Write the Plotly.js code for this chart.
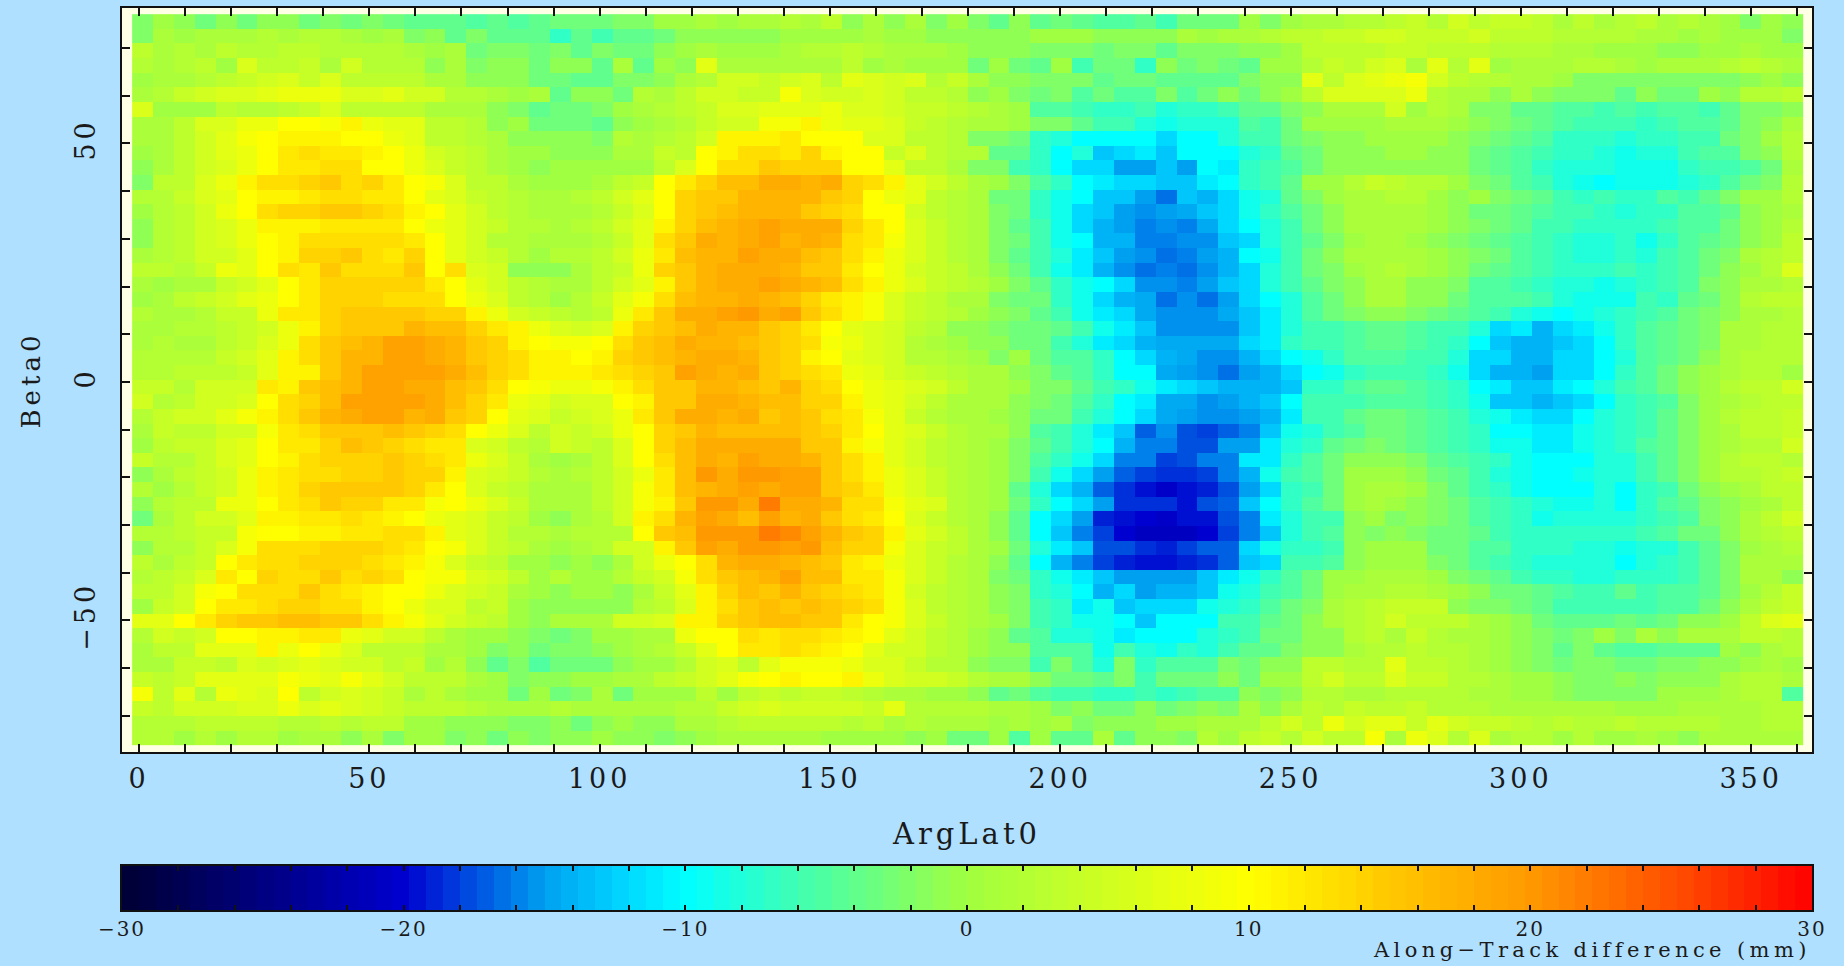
<!DOCTYPE html>
<html><head><meta charset="utf-8">
<script src="https://cdn.plot.ly/plotly-3.0.1.min.js"></script>
<style>
html,body{margin:0;padding:0;background:#b0e0ff}
#c{width:1844px;height:966px}
.xtick text,.ytick text{letter-spacing:4px}
.xtitle,.ytitle{letter-spacing:4px}
.x2tick text{letter-spacing:2px}
.annotation-text{letter-spacing:4.4px}
</style></head><body><div id="c"></div>
<script>
const xTickVals=[0,10,20,30,40,50,60,70,80,90,100,110,120,130,140,150,160,170,180,190,200,210,220,230,240,250,260,270,280,290,300,310,320,330,340,350,360];
const xTickText=['0','','','','','50','','','','','100','','','','','150','','','','','200','','','','','250','','','','','300','','','','','350','',''];
const yTickVals=[70,60,50,40,30,20,10,0,-10,-20,-30,-40,-50,-60,-70];
const yTickText=['','','50','','','','','0','','','','','−50','',''];
const barTickVals=[-30,-28,-26,-24,-22,-20,-18,-16,-14,-12,-10,-8,-6,-4,-2,0,2,4,6,8,10,12,14,16,18,20,22,24,26,28,30];
const barTickText=['−30','','','','','−20','','','','','−10','','','','','0','','','','','10','','','','','20','','','','','30'];
const colorLevels=[-30,-25,-20,-17.5,-15,-12.5,-10,-5,0,5,10,15,20,25,30];
const colorValues=['#000033','#000080','#0000d0','#0050e0','#00a0f0','#00d0ff','#00ffff','#50ffa0','#a0ff40','#d0ff20','#ffff00','#ffc800','#ff9900','#ff5000','#ff0000'];
// Along-track difference (mm): one row per Beta0 bin, top to bottom; 80 ArgLat0 bins per row
const diffRows=[
[-2,0,-1,-3,-1,-3,-1,-1,-3,-2,-3,-2,-3,-4,-4,-4,-5,-4,-5,-4,-3,-3,-3,-2,-2,0,0,1, 0,1,1,2,1,3,-1,1,-1,1,-2,0,-2,-4,-1,-4,-3,-4,-5,-5,-4,-6,-3,-3,-3,0,-2,0, 1,1,2,2,3,4,2,5,3,4,4,3,1,3,1,2,3,1,2,1,0,-2,0,-1],
[-2,1,0,1,1,1,2,1,2,2,1,0,1,-2,-1,-4,-2,-4,-4,-4,-7,-4,-6,-4,-4,-3,-1,-1, -1,-1,-1,0,0,0,0,1,0,0,-1,-1,-1,-1,-1,0,0,0,-1,-1,-1,-1,1,0,1,1,2,3, 3,4,4,5,5,4,4,4,5,3,3,3,2,2,2,2,1,1,0,1,0,0,0,-2],
[3,1,2,1,3,2,2,3,3,2,2,2,2,1,0,1,-3,-2,-2,-3,-2,-4,-2,-3,-3,-1,0,1, 0,0,0,1,2,2,3,2,1,1,1,0,-1,-1,-1,-2,-2,-2,-3,-2,-2,-4,-2,-2,-2,-1,-1,0, 3,3,3,3,4,4,3,3,3,2,2,2,1,1,0,0,0,-1,-1,0,0,1,0,0],
[2,1,2,3,0,6,3,3,4,1,5,2,2,2,-1,1,-2,-1,-1,-3,-1,-1,-4,1,-4,0,-1,7, 1,1,1,1,1,1,3,0,1,0,0,0,-3,0,-3,-4,0,-6,-3,-3,-7,-1,-3,-2,-3,-4,0,0, 2,4,3,5,6,1,7,2,7,0,1,1,1,2,2,1,0,1,1,1,2,3,2,1],
[0,1,1,2,3,4,5,6,4,6,3,3,3,3,1,1,-1,-1,-1,-3,-3,-4,-4,-2,-2,-1,1,2, 5,5,4,5,6,3,7,6,5,6,2,4,1,-1,-1,-2,-2,-2,-4,-3,-3,-4,-4,-4,-4,-2,-1,-1, 7,3,6,7,8,9,5,3,2,2,1,1,0,-2,-2,-2,-2,-2,-2,-2,-2,-1,0,-1],
[1,2,4,5,6,6,7,8,8,8,6,6,7,5,5,2,2,1,0,1,-4,-1,-1,-3,2,1,3,5, 5,4,4,9,6,5,5,6,5,3,3,2,-1,0,-2,-3,-2,-5,-3,-5,-5,-2,-5,-3,-1,-3,-1,0, 3,6,6,6,6,8,2,1,1,-1,1,-1,-2,-2,-2,-4,-1,-3,-3,0,-1,2,2,3],
[6,0,0,0,3,2,2,3,4,6,3,3,3,3,1,1,1,-1,-2,-4,-3,-3,-2,0,1,2,3,4, 6,6,7,7,7,8,6,6,5,4,4,3,2,1,0,-5,-5,-6,-7,-7,-6,-8,-7,-7,-6,-4,-4,-2, -1,1,1,1,5,0,2,1,-2,-2,-4,-4,-5,-5,-6,-5,-6,-5,-5,-6,-4,-2,-2,-1],
[1,1,3,6,6,8,8,10,10,9,11,8,7,7,3,3,2,-1,0,-3,-3,-3,-4,-1,0,1,2,4, 5,5,9,9,11,8,7,7,6,4,3,2,1,1,0,-2,-2,-4,-6,-6,-8,-9,-8,-8,-8,-5,-6,-3, 0,0,0,0,1,1,1,0,-1,-2,-3,-4,-5,-6,-6,-6,-7,-6,-5,-5,-4,-2,-1,1],
[1,1,3,5,7,9,10,11,11,11,10,10,8,7,3,3,2,1,-1,-1,-1,-1,-2,2,1,2,3,5, 11,11,11,12,10,10,10,6,6,3,3,2,-2,-2,-3,-7,-8,-10,-10,-10,-10,-12,-10,-10,-8,-6,-6,-3, -2,-1,-1,0,0,0,0,-1,-2,-3,-4,-5,-7,-7,-7,-8,-7,-7,-6,-6,-3,-2,0,2],
[0,1,3,5,7,8,10,12,13,12,12,11,10,8,5,4,3,1,0,0,-1,-1,-1,1,1,4,3,10, 11,13,13,12,14,11,10,10,4,6,3,2,2,-4,-4,-7,-10,-8,-13,-12,-11,-13,-10,-10,-10,-8,-7,-4, -3,-1,-1,-1,0,0,-1,-1,-3,-4,-5,-6,-7,-7,-8,-9,-8,-8,-6,-5,-5,-2,-1,2],
[-1,1,3,5,6,8,10,12,12,13,13,10,10,8,6,4,3,1,0,-1,0,0,0,0,0,3,6,10, 13,13,15,14,14,14,10,10,7,3,3,1,-2,-2,-6,-7,-10,-12,-12,-15,-15,-13,-15,-10,-11,-7,-6,-5, -3,-1,-1,-1,-1,-1,-1,-1,-3,-4,-5,-7,-8,-8,-8,-9,-9,-9,-7,-6,-6,-5,-3,1],
[-2,3,3,6,8,11,13,13,14,15,13,14,12,10,9,6,3,3,1,0,0,0,1,3,4,10,12,14, 16,16,18,18,17,18,14,13,11,7,5,3,1,0,-2,-5,-7,-10,-11,-12,-12,-13,-13,-11,-10,-7,-6,-4, 0,0,2,4,3,2,2,0,-2,-3,-5,-6,-8,-9,-10,-9,-9,-9,-8,-7,-5,-3,-2,2],
[2,2,4,6,7,10,11,11,12,13,13,12,12,10,7,6,4,3,2,1,1,2,3,5,7,10,14,15, 15,17,17,17,17,15,14,10,8,7,3,2,1,-3,-3,-7,-9,-10,-13,-13,-15,-16.5,-13,-14,-12,-9,-8,-4, -2,0,1,1,2,2,0,-1,0,-2,-3,-4,-6,-7,-6,-7,-7,-5,-6,-4,-2,0,0,2],
[0,2,3,5,8,10,13,14,14,15,15,14,13,11,10,7,5,3,2,1,1,1,2,4,6,10,14,15, 16,17,17,17,15,14,13,10,10,5,3,2,1,-2,-3,-7,-9,-12,-13,-15,-15.5,-15,-14.5,-13,-12,-9,-7,-5, -3,-1,1,1,1,1,0,-1,-3,-3,-4,-5,-6,-6,-7,-8,-7,-7,-5,-5,-4,-1,0,1],
[-1,2,3,5,6,8,11,11,11,12,12,12,12,10,8,7,5,4,2,2,1,2,3,5,7,11,14,16, 17,18,19,18,18,18,14,12,10,6,4,2,1,-2,-4,-6,-9,-12,-14,-15,-16,-15.5,-16,-14.5,-12,-10,-8,-6, -3,-1,1,1,1,1,0,-1,-2,-3,-4,-6,-6,-7,-7,-7,-7,-6,-5,-5,-3,-1,0,2],
[-1,2,3,5,6,8,10,11,13,13,13,13,13,12,10,7,5,2,2,1,1,1,2,4,7,13,15,18, 17,18,19,17,18,17,13,12,9,6,4,2,1,-2,-3,-6,-9,-10,-14,-14,-16,-16,-15.5,-15.5,-13,-12,-8,-6, -4,-2,0,1,1,0,-1,-2,-3,-4,-5,-6,-7,-8,-8,-7,-9,-7,-5,-4,-3,-1,0,3],
[1,2,3,5,5,7,10,11,14,14,15,13,12,14,10,7,5,4,2,0,2,2,3,5,8,12,16,17, 17,19,18,18,16,15,13,11,8,6,4,2,1,-2,-4,-6,-8,-11,-13,-15,-15.5,-16.5,-16,-15,-14,-10,-9,-6, -3,-1,1,1,1,1,0,-1,-2,-3,-5,-6,-7,-8,-8,-7,-8,-6,-5,-3,-2,1,2,3],
[3,3,2,4,8,7,10,13,12,15,13,13,13,15,10,13,6,5,-1,-1,-1,1,3,4,8,14,15,17, 18,18,18,17,15,15,12,10,8,5,4,3,1,-1,-3,-6,-9,-11,-14,-15.5,-16.5,-16,-16.5,-15.5,-14,-12,-8,-6, -3,-2,0,1,2,1,0,-1,-3,-4,-5,-6,-7,-7,-7,-6,-7,-6,-5,-3,-1,0,2,6],
[1,0,1,1,4,5,7,10,12,14,14,14,14,14,12,10,7,5,3,2,1,1,3,5,7,11,15,17, 18,18,19,18,17,16,13,11,8,6,4,3,2,0,-2,-4,-7,-9,-10,-12,-15.5,-15.5,-16,-15,-13,-12,-8,-6, -4,-2,-1,1,1,-1,-1,-2,-5,-5,-6,-7,-8,-8,-9,-8,-7,-6,-5,-2,-1,1,1,2],
[0,1,3,4,5,7,8,10,12,14,14,14,13,13,13,10,8,6,3,2,0,2,4,7,9,13,16,17, 17,18,17,16,14,12,11,9,6,4,3,1,1,-2,-3,-3,-7,-9,-12,-14,-14.5,-16.5,-15.5,-16.5,-15,-12,-10,-8, -5,-3,-1,1,1,-1,-1,-3,-5,-5,-5,-6,-8,-9,-9,-9,-6,-7,-4,-3,-1,2,3,3],
[2,1,1,2,4,4,8,12,12,14,15,15,15,15,14,14,11,8,5,4,3,2,3,8,12,15,18,18, 19,20,18,19,15,13,11,9,6,4,3,2,0,-1,-2,-4,-6,-9,-11,-12,-14.5,-15.5,-15.5,-15.5,-14.5,-13,-11,-8, -5,-3,-2,-1,-1,-2,-3,-4,-5,-6,-8,-9,-10,-9,-8,-7,-6,-5,-3,-2,-1,1,1,2],
[1,1,2,2,3,4,5,8,11,14,15,15,15,17,16,16,14,12,11,8,6,5,6,11,14,15,16,18, 17,17,15,14,12,10,7,6,5,3,2,-1,-1,-2,-3,-3,-4,-6,-9,-11,-13,-15.5,-15.5,-15.5,-15.5,-13,-11,-8, -6,-6,-5,-4,-4,-5,-6,-6,-8,-12,-11,-14,-12,-11,-9,-7,-5,-4,-3,-2,1,1,2,2],
[1,2,1,1,3,4,6,8,13,15,16,17,19,19,18,17,15,14,11,10,9,9,10,13,15,16,18,17, 17,16,15,14,13,9,8,6,5,2,1,0,-1,-1,-3,-3,-6,-8,-11,-12,-14,-14.5,-14.5,-14.5,-14.5,-12,-11,-7, -6,-6,-5,-4,-4,-5,-6,-7,-10,-13,-14,-14,-13,-12,-10,-7,-5,-4,-3,-2,1,1,2,2],
[2,2,2,2,4,5,7,11,13,15,17,17,19,19,18,17,15,14,13,11,11,10,11,14,15,16,17,18, 18,17,15,14,11,10,7,6,5,2,2,1,0,-2,0,-3,-5,-5,-7,-10,-12,-14,-14.5,-15.5,-15.5,-14,-12,-10, -9,-7,-5,-5,-5,-6,-6,-8,-12,-12,-14,-14,-12,-12,-10,-8,-5,-4,-3,-1,1,2,2,2],
[2,2,3,3,3,4,7,11,11,15,17,19,19,19,19,18,16,14,13,11,11,11,12,13,14,15,19,18, 17,18,15,14,13,12,8,7,5,4,3,2,1,1,-1,-2,-4,-5,-7,-10,-10,-14.5,-15,-15.5,-16.5,-15,-14,-12, -10,-9,-7,-6,-6,-6,-7,-9,-12,-14,-14,-15,-12,-12,-10,-7,-5,-3,-1,0,1,2,2,0],
[4,4,2,5,5,5,12,11,15,16,17,19,19,18,18,16,15,13,10,9,8,8,9,11,13,15,15,17, 17,16,15,17,14,13,10,8,7,6,5,3,1,1,0,-2,-2,-4,-6,-7,-9,-11,-12,-13,-14,-14,-14,-13, -7,-7,-5,-4,-4,-5,-6,-7,-10,-11,-13,-13,-11,-10,-8,-6,-5,-3,-1,0,2,3,3,5],
[5,2,3,5,5,6,10,13,14,16,19,19,19,19,18,16,14,12,8,7,5,6,6,10,11,15,15,18, 18,17,16,16,14,14,11,8,7,5,3,1,1,1,-1,-2,-3,-5,-7,-10,-11,-14.5,-14.5,-15.5,-15,-14,-13,-10, -6,-6,-6,-5,-5,-5,-6,-7,-9,-13,-13,-14,-13,-12,-10,-7,-6,-5,-2,0,1,2,3,3],
[2,4,5,5,7,9,11,13,15,17,18,19,19,17,18,15,14,10,7,6,4,5,6,8,12,15,18,18, 17,18,15,16,15,13,12,9,7,4,2,1,1,0,-1,-3,-3,-6,-8,-10,-12,-14.5,-15,-15.5,-15.5,-15,-14,-11, -6,-6,-4,-3,-3,-4,-5,-6,-8,-9,-11,-12,-12,-10,-8,-7,-6,-4,-2,0,2,3,3,4],
[1,4,3,3,5,5,9,12,13,15,15,15,16,15,14,13,10,8,6,3,5,4,5,8,10,14,15,17, 16,16,16,16,15,14,12,10,7,6,4,2,1,1,-1,-5,-6,-8,-11,-13,-17,-15.5,-17.5,-18,-17,-16,-13,-9, -8,-6,-5,-3,-3,-4,-5,-6,-7,-10,-10,-11,-11,-9,-8,-7,-6,-4,-2,0,1,3,3,4],
[0,3,4,4,6,7,10,12,12,14,16,15,14,13,12,12,6,5,3,2,5,4,3,6,10,14,16,18, 18,18,18,18,15,15,11,9,7,5,3,2,1,0,-2,-4,-6,-8,-10,-14,-16,-16,-17.5,-17.5,-15,-15,-11,-8, -7,-4,-3,-2,-3,-4,-5,-6,-7,-9,-9,-11,-11,-9,-8,-7,-5,-4,-2,0,1,2,2,5],
[4,2,2,4,6,7,10,11,13,14,14,14,15,14,13,12,8,6,4,1,0,1,3,6,10,13,16,18, 17,19,18,18,17,15,13,11,7,5,3,2,1,0,-2,-5,-7,-9,-12,-16,-16,-18,-17.5,-16,-16,-11,-11,-7, -5,-3,-1,-1,-1,-2,-4,-5,-6,-7,-9,-10,-10,-10,-8,-8,-6,-4,-2,0,2,3,3,2],
[-1,1,3,4,5,8,11,12,13,13,14,14,15,14,14,11,6,5,4,2,1,2,3,5,8,12,16,20, 18,20,20,19,19,15,13,11,8,6,4,2,1,0,-2,-6,-9,-12,-15,-17,-18,-18.5,-18.5,-18,-16,-14,-9,-6, -5,-3,0,0,0,-1,-3,-4,-6,-8,-9,-10,-10,-9,-8,-8,-6,-4,-2,0,2,2,3,4],
[2,0,2,4,5,8,11,12,14,15,15,15,15,14,12,10,6,4,3,1,1,1,3,5,9,12,16,17, 18,19,18,19,19,15,14,12,8,6,4,2,1,0,-4,-8,-12,-14,-17,-18.5,-19.5,-20.5,-19.5,-19,-17.5,-15,-12,-7, -6,-3,0,1,1,0,-2,-4,-6,-7,-9,-10,-10,-10,-8,-10,-7,-6,-3,-1,0,1,3,3],
[-1,2,3,3,8,8,10,12,13,15,14,14,12,12,9,10,8,6,4,1,1,1,3,5,9,11,15,20, 20,18,22,18,18,17,13,13,9,7,6,2,1,0,-3,-7,-10,-12,-15,-18.5,-18.5,-18.5,-19.5,-17.5,-17,-13,-10,-7, -5,-3,0,1,0,-1,-2,-3,-5,-6,-7,-8,-9,-9,-8,-10,-7,-5,-4,-2,-1,0,1,3],
[-3,1,3,5,5,7,11,11,12,12,13,12,11,10,8,7,6,4,3,0,-1,1,2,5,11,13,17,19, 18,16,19,17,18,15,13,12,10,6,4,2,1,-1,-4,-10,-12,-15,-19,-19.5,-20,-20.5,-19.5,-19.5,-17.5,-16,-11,-8, -6,-6,-1,0,-2,-1,-2,-3,-5,-6,-7,-9,-8,-8,-8,-8,-7,-6,-5,-2,-1,1,3,5],
[2,2,3,4,4,9,10,10,11,11,12,12,13,13,11,7,6,4,2,2,1,2,2,2,10,15,16,20, 20,20,22,21,19,17,15,14,11,7,5,3,1,-1,-4,-10,-13,-16,-18,-20,-21,-21,-21,-20,-18,-16,-13,-8, -6,-5,-1,-2,-1,-2,-3,-3,-4,-6,-7,-7,-7,-7,-7,-7,-6,-5,-3,-3,-1,1,2,3],
[-1,2,2,4,6,9,13,13,13,14,14,14,13,12,10,9,6,4,3,1,0,1,2,5,5,11,15,19, 18,20,20,19,20,16,14,14,9,6,4,3,1,0,-3,-8,-11,-13,-17.5,-17.5,-18.5,-19,-18,-17,-17,-12,-9,-7, -7,-6,-1,0,0,0,-3,-3,-5,-5,-7,-7,-7,-8,-8,-9,-8,-8,-6,-4,-2,0,1,2],
[3,1,3,4,10,12,13,13,14,14,14,13,12,11,9,6,4,3,0,0,-1,0,-1,1,5,8,10,13, 17,18,18,17,16,15,12,11,8,6,4,2,1,-1,-4,-10,-14,-16,-18,-19,-19.5,-19.5,-19,-18.5,-17,-13,-12,-6, -6,-5,-1,0,0,0,-2,-3,-5,-6,-7,-8,-8,-8,-8,-10,-8,-7,-6,-4,-2,1,1,1],
[2,3,4,6,12,10,14,13,13,15,13,14,13,10,9,9,6,5,3,0,2,0,0,2,4,5,9,13, 15,16,17,19,16,16,12,12,9,6,4,2,1,-2,-3,-7,-9,-11,-13,-15,-15,-15,-15,-13,-11,-9,-7,-5, -3,0,0,1,1,1,0,-2,-3,-4,-6,-7,-7,-8,-8,-7,-7,-7,-6,-4,-2,1,1,-1],
[3,3,5,9,10,13,13,13,15,13,12,11,10,10,8,6,5,4,1,0,-1,0,0,-1,1,4,7,11, 14,16,15,17,15,14,13,12,9,5,3,2,1,-1,-2,-7,-8,-10,-14,-12,-15,-14,-14,-13,-9,-8,-6,-5, -3,0,1,1,2,2,1,0,-1,-3,-3,-4,-5,-6,-6,-4,-6,-5,-5,-4,-2,0,2,4],
[0,4,5,10,12,12,13,14,14,13,13,11,10,8,6,6,3,4,0,-1,-1,-1,-1,-1,2,3,6,11, 13,15,16,15,16,15,14,13,9,6,3,2,1,-1,-2,-6,-7,-11,-9,-13,-12,-12,-12,-9,-8,-7,-5,-3, -2,1,2,3,4,4,4,-1,-2,-2,-3,-4,-6,-6,-6,-6,-6,-5,-5,-3,-1,1,3,4],
[7,7,10,12,14,15,15,16,16,15,15,13,11,9,7,5,4,3,0,-1,1,1,1,5,5,6,11,11, 14,15,16,16,15,15,12,10,9,6,4,2,1,0,-2,-6,-7,-9,-9,-10,-13,-10,-10,-10,-6,-6,-4,-3, -1,1,2,3,5,3,3,3,1,0,-1,-3,-4,-4,-4,-3,-4,-3,-1,-1,0,3,6,7],
[2,5,4,5,10,10,11,11,12,12,8,7,5,5,3,1,0,0,-1,-2,-3,-2,0,0,1,1,8,10, 10,13,12,13,13,12,11,10,7,5,3,2,0,-1,-4,-5,-8,-8,-9,-11,-10,-10,-10,-8,-7,-6,-3,-3, -1,-1,2,3,1,4,2,1,1,0,-1,-2,-3,-2,0,-2,1,-1,1,1,1,3,3,2],
[1,3,3,7,7,7,11,8,10,8,6,3,3,3,1,1,0,-2,-1,-3,-2,-2,-1,0,1,2,4,7, 10,12,12,13,12,11,10,7,5,5,3,2,0,-1,-1,-5,-5,-5,-9,-6,-8,-9,-7,-8,-6,-4,-4,-2, -1,-1,1,2,2,3,2,2,1,0,-1,-2,-4,-2,-4,-5,-5,-4,-4,-4,0,-1,1,2],
[1,1,4,4,3,6,5,6,7,6,5,5,3,4,0,2,-1,-4,-2,-5,-3,-3,-3,-1,0,0,2,5, 6,3,7,9,9,9,8,6,6,4,2,2,-1,-2,-2,-6,-2,-5,-8,-2,-7,-5,-5,-5,-2,-3,-1,-1, 3,3,2,2,7,3,3,2,1,0,-1,-2,-3,-2,-2,-3,-3,-2,-2,-1,-1,0,1,0],
[4,3,4,7,7,7,7,9,8,7,9,7,5,3,3,3,1,0,-2,-1,-1,0,0,1,1,3,4,5, 7,9,10,11,10,10,11,8,6,5,5,4,2,1,1,-1,-3,-3,-4,-2,-6,-3,-3,-3,-1,-3,0,0, 3,5,3,3,6,4,4,2,2,1,0,0,-1,-2,-2,-1,-2,-1,-1,-1,1,2,2,1],
[9,3,7,2,8,7,6,10,3,5,6,5,4,1,3,1,0,0,-3,0,-3,-2,1,-3,0,0,0,3, 0,3,4,3,4,4,3,2,1,1,0,0,-1,-4,-3,-5,-6,-6,-7,-7,-6,-7,-6,-5,-5,-1,-2,-1, 2,2,1,1,2,2,2,2,1,1,0,0,-1,-2,-2,-2,-2,0,0,0,1,2,2,-5],
[4,3,5,5,5,6,6,8,6,7,6,5,4,3,3,3,2,1,1,1,2,1,1,1,1,1,2,2, 4,5,6,5,5,5,5,4,7,2,2,2,2,1,1,0,-2,-1,-3,-3,-1,-3,-2,-1,-2,1,-1,1, 3,2,4,3,3,4,2,2,2,1,1,1,1,1,1,0,0,0,1,1,1,1,2,2],
[2,2,2,3,3,3,3,2,2,3,2,3,3,0,0,-1,-1,-1,-2,-2,-1,-3,-1,0,-1,-1,1,1, 2,3,3,3,3,3,2,3,1,2,1,1,1,0,1,0,1,-2,-1,-1,-1,0,0,1,1,1,3,5, 3,8,5,7,7,4,7,5,4,4,3,2,3,2,2,3,2,2,2,2,1,1,2,2],
[2,2,0,2,0,2,2,0,1,1,-1,1,-2,0,0,-2,-1,-3,-1,-2,-1,-1,0,-1,-1,-2,-1,0, 1,1,1,1,1,0,0,0,0,-1,0,-3,-3,0,-5,0,-4,-4,1,-4,-1,-1,-2,2,0,3,4,2, 5,3,3,9,1,8,6,2,6,1,2,2,0,2,0,0,1,0,-1,1,1,1,1,1]
];
const barLevels=[];
for(let v=-29.7;v<30;v+=0.6)barLevels.push(+v.toFixed(1));

const scale=colorLevels.map((v,i)=>[(v+30)/60,colorValues[i]]);
const W=1844,H=966;
const font=(s)=>({family:'"DejaVu Serif",serif',size:s,color:'#1a1a1a'});
const axisCommon={showgrid:false,zeroline:false,showline:true,linecolor:'#111',linewidth:2,mirror:'allticks',ticks:'inside',tickcolor:'#111',tickwidth:2,tickmode:'array'};
const traces=[
 {type:'heatmap',z:diffRows,x0:0.77,dx:4.535,y0:75.57,dy:-3.067,zmin:-30,zmax:30,colorscale:scale,showscale:false,zsmooth:false,xaxis:'x',yaxis:'y'},
 {type:'heatmap',z:[barLevels],x:barLevels,y:[0.5],zmin:-30,zmax:30,colorscale:scale,showscale:false,zsmooth:false,xaxis:'x2',yaxis:'y2',hoverinfo:'skip'}
];
const layout={
 width:W,height:H,margin:{l:0,r:0,t:0,b:0},paper_bgcolor:'#b0e0ff',plot_bgcolor:'#ffffe6',showlegend:false,
 xaxis:Object.assign({},axisCommon,{domain:[122/W,1812/W],range:[-3.7,363.2],anchor:'y',tickvals:xTickVals,ticktext:xTickText,ticklen:8,tickfont:font(27),ticklabelstandoff:2,title:{text:'ArgLat0',font:font(29),standoff:30}}),
 yaxis:Object.assign({},axisCommon,{domain:[1-752/H,1-8/H],range:[-77.6,78.4],anchor:'x',tickvals:yTickVals,ticktext:yTickText,ticklen:8,tickangle:-90,tickfont:font(27),ticklabelstandoff:14,title:{text:'Beta0',font:font(26),standoff:22}}),
 xaxis2:Object.assign({},axisCommon,{domain:[122/W,1812/W],range:[-30,30],anchor:'y2',tickvals:barTickVals,ticktext:barTickText,ticklen:5,tickwidth:1.5,tickfont:font(20)}),
 yaxis2:{domain:[1-910/H,1-866/H],range:[0,1],anchor:'x2',showgrid:false,zeroline:false,showline:true,linecolor:'#111',linewidth:2,mirror:true,ticks:'',showticklabels:false},
 annotations:[{xref:'paper',yref:'paper',x:1813/W,y:1-950/H,xanchor:'right',yanchor:'middle',showarrow:false,text:'Along−Track difference (mm)',font:font(21)}]
};
Plotly.newPlot('c',traces,layout,{displayModeBar:false,responsive:false});
</script></body></html>
